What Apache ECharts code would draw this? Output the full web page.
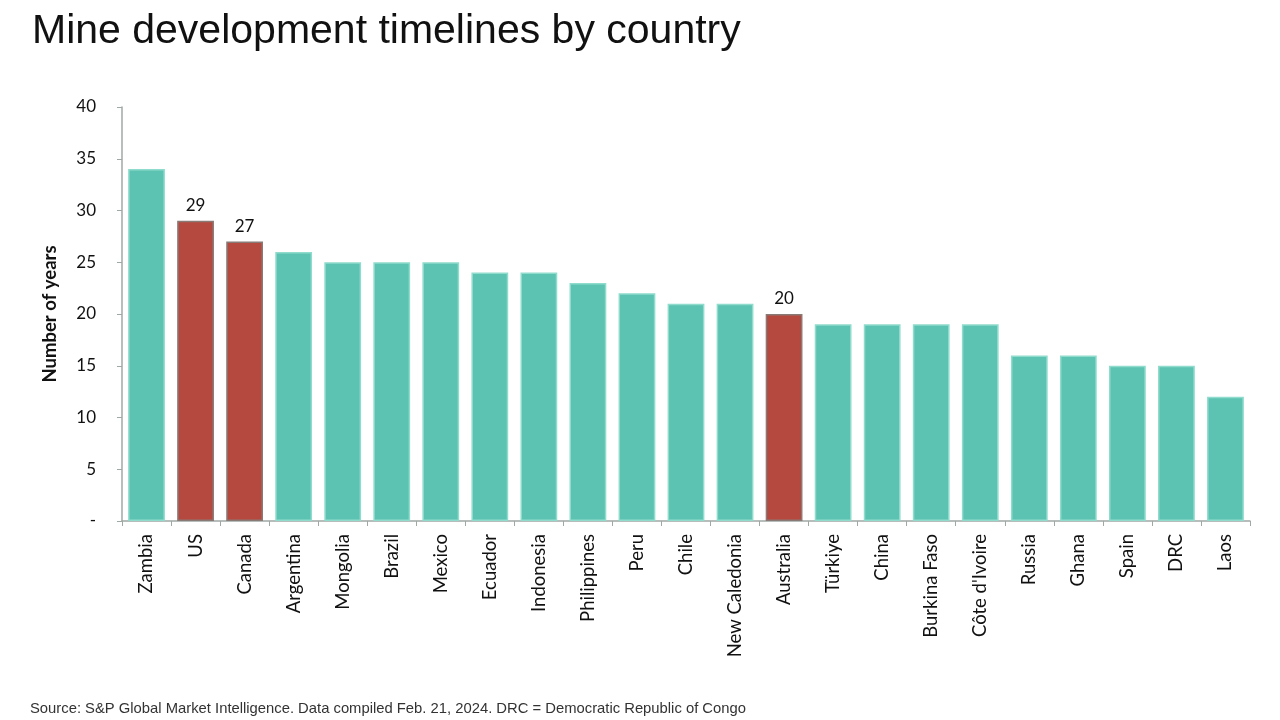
<!DOCTYPE html>
<html><head><meta charset="utf-8">
<script src="https://cdn.jsdelivr.net/npm/echarts@6/dist/echarts.min.js"></script>
<style>html,body{margin:0;padding:0;background:#fff}#c{width:1280px;height:720px}</style>
</head><body><div id="c"></div>
<script>
const countries = ['Zambia','US','Canada','Argentina','Mongolia','Brazil','Mexico','Ecuador','Indonesia','Philippines','Peru','Chile','New Caledonia','Australia','Türkiye','China','Burkina Faso',"Côte d'Ivoire",'Russia','Ghana','Spain','DRC','Laos'];
const years = [34,29,27,26,25,25,25,24,24,23,22,21,21,20,19,19,19,19,16,16,15,15,12];
const highlighted = ['US','Canada','Australia'];
const yTicks = [0,5,10,15,20,25,30,35,40];

const chart = echarts.init(document.getElementById('c'));
const teal = '#5cc2b1', red = '#b5483f';
chart.setOption({
  animation:false,
  title:[{text:'Mine development timelines by country',left:27,top:6,textStyle:{fontFamily:'Liberation Sans',fontSize:41,fontWeight:'normal',color:'#111'}},
         {text:'Source: S&P Global Market Intelligence. Data compiled Feb. 21, 2024. DRC = Democratic Republic of Congo',left:25,top:696,textStyle:{fontFamily:'Liberation Sans',fontSize:14.8,fontWeight:'normal',color:'#333'}}],
  grid:{left:122,right:30,top:107,bottom:199},
  xAxis:{type:'category',data:countries,
    axisLine:{lineStyle:{color:'#a0a8a4',width:1.5}},
    axisTick:{show:true,interval:0,length:5,lineStyle:{color:'#a0a8a4'}},
    axisLabel:{interval:0,rotate:90,margin:13,fontFamily:'Lato',fontSize:18.5,color:'#111'}},
  yAxis:{type:'value',min:0,max:40,interval:5,
    name:'Number of years',nameLocation:'middle',nameGap:62,nameRotate:90,
    nameTextStyle:{fontFamily:'Lato',fontSize:18.5,fontWeight:'bold',color:'#111'},
    axisLine:{show:true,lineStyle:{color:'#a0a8a4',width:1.5}},
    axisTick:{show:true,length:5,lineStyle:{color:'#a0a8a4'}},
    splitLine:{show:false},
    axisLabel:{margin:26,fontFamily:'Lato',fontSize:17,color:'#111',
      formatter:v=> yTicks.includes(v) ? (v===0?'-':String(v)) : ''}},
  series:[{type:'bar',barCategoryGap:'25%',
    data:countries.map((c,i)=>{
      const h = highlighted.includes(c);
      return {value:years[i],
        itemStyle:{color:h?red:teal,borderColor:h?'#8a7a76':'#8fdccd',borderWidth:1.5},
        label:{show:h,position:'top',distance:7,fontFamily:'Lato',fontSize:17,color:'#111'}};
    })}]
});
</script></body></html>
